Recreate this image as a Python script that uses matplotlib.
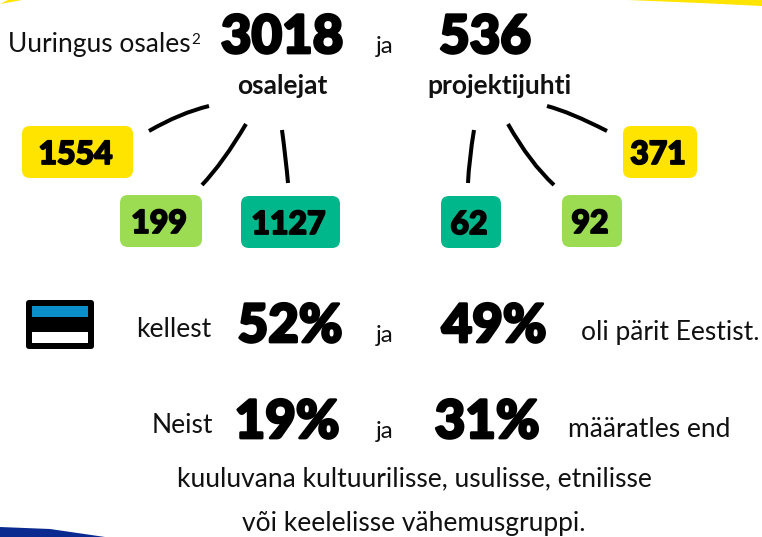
import matplotlib
matplotlib.use('Agg')
import matplotlib.pyplot as plt
import matplotlib.patheffects as pe
from matplotlib.patches import FancyBboxPatch, PathPatch, Polygon, Rectangle
from matplotlib.path import Path

plt.rcParams['font.family'] = ['Lato', 'DejaVu Sans']

YELLOW = '#ffe400'
LIGHT_GREEN = '#9bdc52'
TEAL = '#00b78c'
BLUE = '#0a2a8f'

totals = ['3018', '536']
total_labels = ['osalejat', 'projektijuhti']
box_values = ['1554', '199', '1127', '62', '92', '371']
box_colors = [YELLOW, LIGHT_GREEN, TEAL, TEAL, LIGHT_GREEN, YELLOW]
estonia_pct = ['52%', '49%']
minority_pct = ['19%', '31%']

fig = plt.figure(figsize=(7.62, 5.37), dpi=100)
ax = fig.add_axes([0, 0, 1, 1])
ax.set_xlim(0, 762)
ax.set_ylim(537, 0)
ax.axis('off')


def big(x, y, s, size=38):
    ax.text(x, y, s, fontsize=size, fontweight='black', ha='center', va='baseline', color='black',
            path_effects=[pe.withStroke(linewidth=2, foreground='black')])


def small(x, y, s, ha='left', size=19, weight='normal'):
    ax.text(x, y, s, fontsize=size, ha=ha, va='baseline', color='#111111', fontweight=weight)


def curve(p0, p1, p2):
    path = Path([p0, p1, p2], [Path.MOVETO, Path.CURVE3, Path.CURVE3])
    ax.add_patch(PathPatch(path, fc='none', ec='black', lw=2.9, capstyle='butt'))


# nurkade kujundid
ax.add_patch(Polygon([(0, 4), (8, 0), (22, 0)], fc=YELLOW, ec='none'))
ax.add_patch(Polygon([(628, 0), (762, 0), (762, 6), (700, 3)], fc=YELLOW, ec='none'))
ax.add_patch(Polygon([(0, 527), (50, 529), (105, 537), (0, 537)], fc=BLUE, ec='none'))

# esimene rida
small(8, 52, 'Uuringus osales')
small(191, 44, '2', size=11)
big(282, 53, totals[0])
small(376, 53, 'ja', size=17.3)
big(485, 53, totals[1])
small(282, 94, total_labels[0], ha='center', size=19, weight='bold')
small(499, 94, total_labels[1], ha='center', size=19, weight='bold')

# kastid
boxes = [(22, 126, 111, 52), (120, 195, 82, 52), (241, 196, 99, 52),
         (441, 196, 60, 52), (562, 195, 60, 52), (623, 126, 74, 52)]
for (x, y, w, h), val, col in zip(boxes, box_values, box_colors):
    ax.add_patch(FancyBboxPatch((x + 8, y + 8), w - 16, h - 16,
                                boxstyle='round,pad=8,rounding_size=8', fc=col, ec='none'))
    ax.text(x + w / 2 - 2, y + h / 2 + 12, val, fontsize=23, fontweight='black', ha='center', va='baseline',
            color='black', path_effects=[pe.withStroke(linewidth=1.3, foreground='black')])

# joonekesed
curve((149, 131), (180, 113), (209, 106))
curve((246, 124), (223, 163), (202, 185))
curve((282, 130), (286, 160), (288, 183))
curve((607, 131), (570, 112), (547, 106))
curve((508, 124), (530, 163), (554, 185))
curve((474, 130), (469, 160), (468, 183))

# lipp
ax.add_patch(FancyBboxPatch((29, 303), 62, 43, boxstyle='round,pad=3,rounding_size=3', fc='black', ec='none'))
ax.add_patch(Rectangle((32, 306), 56, 11, fc='#0a8fcb', ec='none'))
ax.add_patch(Rectangle((32, 332), 56, 11, fc='white', ec='none'))

# teine rida
small(136, 337, 'kellest')
big(290, 342, estonia_pct[0])
small(376, 342, 'ja', size=17.3)
big(494, 342, estonia_pct[1])
small(581, 340, 'oli pärit Eestist.')

# kolmas rida
small(152, 433, 'Neist')
big(287, 438, minority_pct[0])
small(376, 438, 'ja', size=17.3)
big(487, 438, minority_pct[1])
small(568, 437, 'määratles end')

small(414, 486, 'kuuluvana kultuurilisse, usulisse, etnilisse', ha='center')
small(414, 531, 'või keelelisse vähemusgruppi.', ha='center')

fig.savefig('out.png', dpi=100)
